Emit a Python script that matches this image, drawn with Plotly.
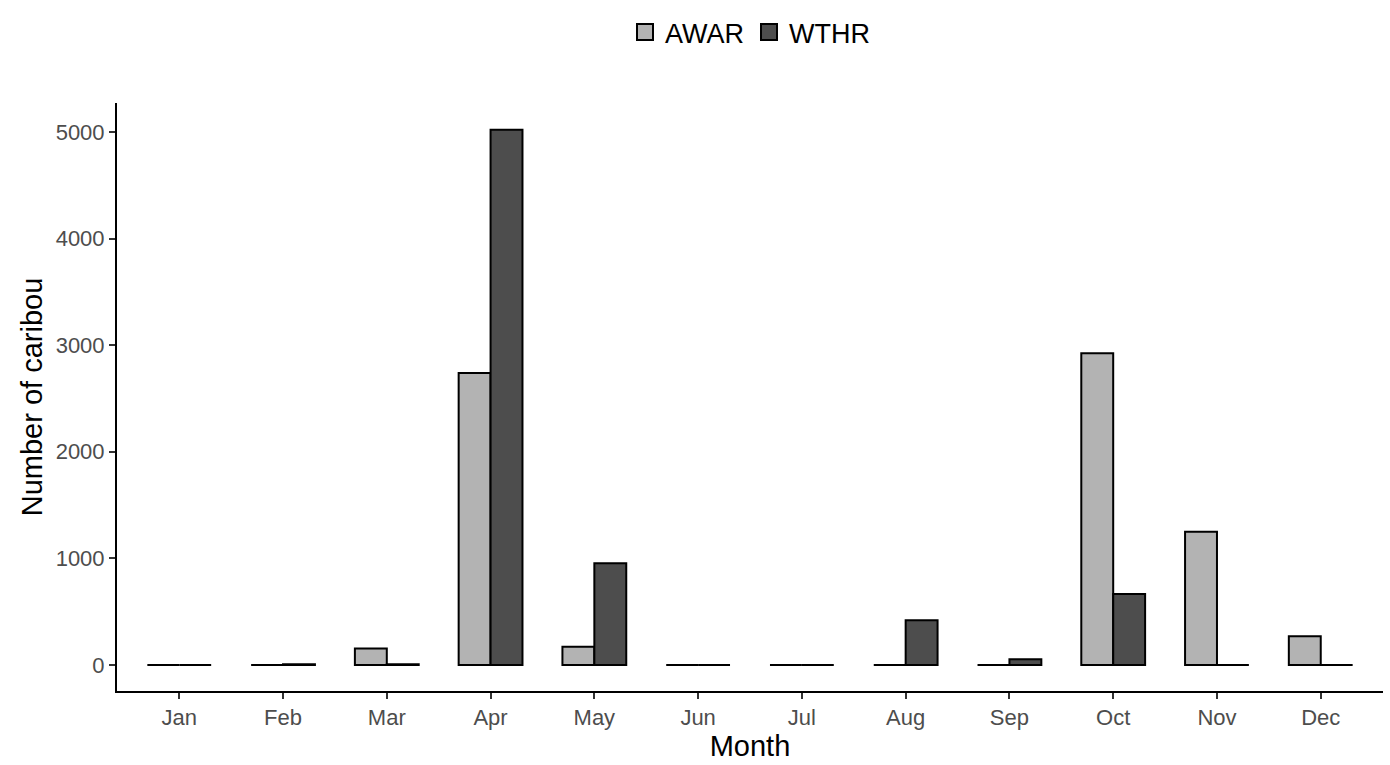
import plotly.graph_objects as go

months = ["Jan", "Feb", "Mar", "Apr", "May", "Jun", "Jul", "Aug", "Sep", "Oct", "Nov", "Dec"]
awar = [0, 0, 155, 2740, 170, 0, 0, 0, 0, 2925, 1250, 270]
wthr = [0, 8, 8, 5020, 955, 0, 0, 420, 55, 665, 0, 0]

series = [("AWAR", awar, "#B3B3B3"), ("WTHR", wthr, "#4D4D4D")]

fig = go.Figure()
for name, vals, col in series:
    fig.add_bar(x=months, y=vals, name=name, showlegend=False,
                marker=dict(color=col, line=dict(color="black", width=2)))
# legend entries with larger square keys
for name, vals, col in series:
    fig.add_scatter(x=[None], y=[None], mode="markers", name=name,
                    marker=dict(symbol="square", size=40, color=col,
                                line=dict(color="black", width=2)))

fig.update_layout(
    width=1390, height=765,
    barmode="group", bargap=0.385, bargroupgap=0,
    plot_bgcolor="white", paper_bgcolor="white",
    margin=dict(l=117, r=7, t=103, b=74),
    font=dict(family="Liberation Sans, Arial, sans-serif", color="black"),
    legend=dict(orientation="h", x=0.5, xanchor="center", y=1.12, yanchor="middle",
                font=dict(size=27, color="black"), itemsizing="trace"),
    xaxis=dict(range=[-0.6, 11.6], showline=True, linecolor="black", linewidth=2,
               ticks="outside", ticklen=6, tickwidth=1.5, tickcolor="#333333",
               tickfont=dict(size=22, color="#4D4D4D"), automargin=False,
               title=dict(text="Month", font=dict(size=29, color="black"), standoff=4),
               showgrid=False, zeroline=False),
    yaxis=dict(range=[-244, 5272], showline=True, linecolor="black", linewidth=2,
               tickvals=[0, 1000, 2000, 3000, 4000, 5000],
               ticks="outside", ticklen=6, tickwidth=1.5, tickcolor="#333333",
               tickfont=dict(size=22, color="#4D4D4D"), automargin=False,
               title=dict(text="Number of caribou", font=dict(size=29, color="black"), standoff=4),
               showgrid=False, zeroline=False),
)

fig.write_html("out.html", config={"displayModeBar": False},
               post_script="document.body.style.margin='0';document.body.style.overflow='hidden';")
